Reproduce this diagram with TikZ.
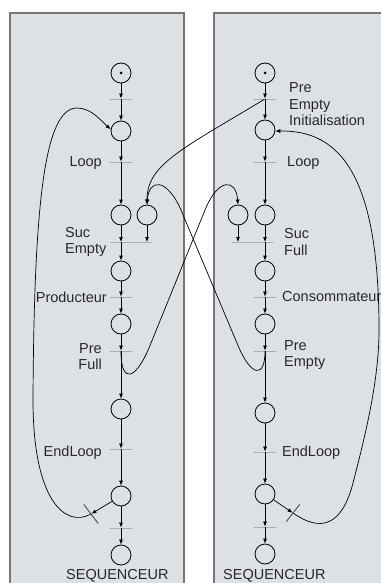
\documentclass[tikz,border=0pt]{standalone}
\usepackage{fontspec}
\setmainfont{Liberation Sans}
\usetikzlibrary{arrows.meta}
\definecolor{panelfill}{RGB}{221,224,229}
\definecolor{panelline}{RGB}{118,118,118}
\definecolor{barline}{RGB}{150,150,150}
\definecolor{textgray}{RGB}{40,40,40}

\begin{document}
\begin{tikzpicture}[x=1pt, y=-1pt,
        place/.style={draw, circle, minimum size=20pt, inner sep=0pt, line width=0.8pt},
        token/.style={fill, circle, minimum size=3pt, inner sep=0pt},
        bar/.style={draw=barline, rectangle, minimum width=23pt, minimum height=0pt, inner sep=0pt, line width=0.8pt},
        arc/.style={line width=0.7pt, -{Latex[length=5pt, width=4pt]}},
        lbl/.style={font=\fontsize{14.5}{16.5}\selectfont, text=textgray, inner sep=0pt}]
         \useasboundingbox (0, 0) rectangle (380, 583);
         \fill[panelfill] (10, 13) rectangle (184, 600);
         \draw[panelline, line width=1.4pt] (10, 600) to (10, 13) to (184, 13) to (184, 600);
         \fill[panelfill] (214, 13) rectangle (400, 600);
         \draw[panelline, line width=1.4pt] (214, 600) to (214, 13) to (400, 13);

         \node[place] (pL1) at (121, 73) {};
             \node[token] (kL1) at (pL1) {};
         \node[bar] (tL1) at (121, 99) {};
         \node[place] (pL2) at (121, 131) {};
         \node[bar] (tL2) at (121, 162) {};
             \node[lbl, anchor=east] (lLoopL) at (102, 163.5) {Loop};
         \node[place] (pL3) at (121, 215) {};
         \node[place] (pL3b) at (147, 215) {};
         \node[bar, minimum width=42pt] (tL3) at (131, 242) {};
             \node[lbl, anchor=west, align=left] (lSucE) at (65, 242) {Suc\\Empty};
         \node[place] (pL4) at (121, 271) {};
         \node[bar] (tL4) at (121, 297) {};
             \node[lbl, anchor=east] (lProd) at (107, 297) {Producteur};
         \node[place] (pL5) at (121, 324) {};
         \node[bar] (tL5) at (121, 351) {};
             \node[lbl, anchor=east, align=right] (lPreF) at (102, 356.5) {Pre\\Full};
         \node[place] (pL6) at (121, 409) {};
         \node[bar] (tL6) at (121, 449) {};
             \node[lbl, anchor=east] (lEndL) at (102, 452.5) {EndLoop};
         \node[place] (pL7) at (121, 496) {};
         \node[bar] (tL7) at (121, 528) {};
         \node[place] (pL8) at (121, 555) {};
             \node[lbl, anchor=base west] (lSeqL) at (66, 579) {SEQUENCEUR};
         \node[bar, draw=black!75, minimum width=24pt, rotate=-53] (tLx) at (91, 514) {};

         \node[place] (pR1) at (265, 73) {};
             \node[token] (kR1) at (pR1) {};
         \node[bar] (tR1) at (265, 99) {};
             \node[lbl, anchor=west, align=left] (lInit) at (289, 104.5) {Pre\\Empty\\Initialisation};
         \node[place] (pR2) at (265, 130) {};
         \node[bar] (tR2) at (265, 162) {};
             \node[lbl, anchor=west] (lLoopR) at (287, 163.5) {Loop};
         \node[place] (pR3) at (265, 215) {};
         \node[place] (pR3b) at (238, 215) {};
         \node[bar, minimum width=42pt] (tR3) at (252.5, 242) {};
             \node[lbl, anchor=west, align=left] (lSucF) at (284, 242) {Suc\\Full};
         \node[place] (pR4) at (265, 271) {};
         \node[bar] (tR4) at (265, 297) {};
             \node[lbl, anchor=west] (lCons) at (282, 297) {Consommateur};
         \node[place] (pR5) at (265, 324) {};
         \node[bar] (tR5) at (265, 351) {};
             \node[lbl, anchor=west, align=left] (lPreE) at (284, 355) {Pre\\Empty};
         \node[place] (pR6) at (265, 413) {};
         \node[bar] (tR6) at (265, 452) {};
             \node[lbl, anchor=west] (lEndR) at (282, 452.5) {EndLoop};
         \node[place] (pR7) at (265, 494) {};
         \node[bar] (tR7) at (265, 527) {};
         \node[place] (pR8) at (265, 554) {};
             \node[lbl, anchor=base west] (lSeqR) at (223, 579) {SEQUENCEUR};
         \node[bar, draw=black!75, minimum width=22pt, rotate=52] (tRx) at (293, 513) {};

         \draw[arc] (pL1) to (tL1);
         \draw[arc] (tL1) to (pL2);
         \draw[arc] (pL2) to (tL2);
         \draw[arc] (tL2) to (pL3);
         \draw[arc] (pL3) to (pL3 |- tL3);
         \draw[arc] (pL3b) to (pL3b |- tL3);
         \draw[arc] (pL4 |- tL3) to (pL4);
         \draw[arc] (pL4) to (tL4);
         \draw[arc] (tL4) to (pL5);
         \draw[arc] (pL5) to (tL5);
         \draw[arc] (tL5) to (pL6);
         \draw[arc] (pL6) to (tL6);
         \draw[arc] (tL6) to (pL7);
         \draw[arc] (pL7) to (tL7);
         \draw[arc] (tL7) to (pL8);
         \draw[arc] (pL7) to (tLx);

         \draw[arc] (pR1) to (tR1);
         \draw[arc] (tR1) to (pR2);
         \draw[arc] (pR2) to (tR2);
         \draw[arc] (tR2) to (pR3);
         \draw[arc] (pR3) to (pR3 |- tR3);
         \draw[arc] (pR3b) to (pR3b |- tR3);
         \draw[arc] (pR4 |- tR3) to (pR4);
         \draw[arc] (pR4) to (tR4);
         \draw[arc] (tR4) to (pR5);
         \draw[arc] (pR5) to (tR5);
         \draw[arc] (tR5) to (pR6);
         \draw[arc] (pR6) to (tR6);
         \draw[arc] (tR6) to (pR7);
         \draw[arc] (pR7) to (tR7);
         \draw[arc] (tR7) to (pR8);
         \draw[arc] (pR7) to (tRx);

         \draw[arc] (tLx) .. controls (65, 528) and (33, 500) .. (33, 400) .. controls (34, 200) and (45, 108) .. (77, 108) .. controls (92, 108) and (102, 122) .. (pL2.170);
         \draw[arc] (tRx) .. controls (320, 532) and (341.75, 526.7) .. (353, 483) .. controls (365.5, 434.5) and (379, 380) .. (379, 330) .. controls (379, 175) and (340, 130) .. (pR2.-6);
         \draw[arc] (tR1) .. controls (180, 150) and (147, 165) .. (pL3b.north);
         \draw[arc] (tL5) .. controls (121, 385) and (136, 380) .. (150, 345.5) to (205, 210) .. controls (218, 178) and (236, 178) .. (pR3b.north);
         \draw[arc] (tR5) .. controls (265, 378) and (251.5, 377.5) .. (238, 345.5) to (181, 210) .. controls (167, 178) and (149, 178) .. (pL3b.north);
\end{tikzpicture}
\end{document}
